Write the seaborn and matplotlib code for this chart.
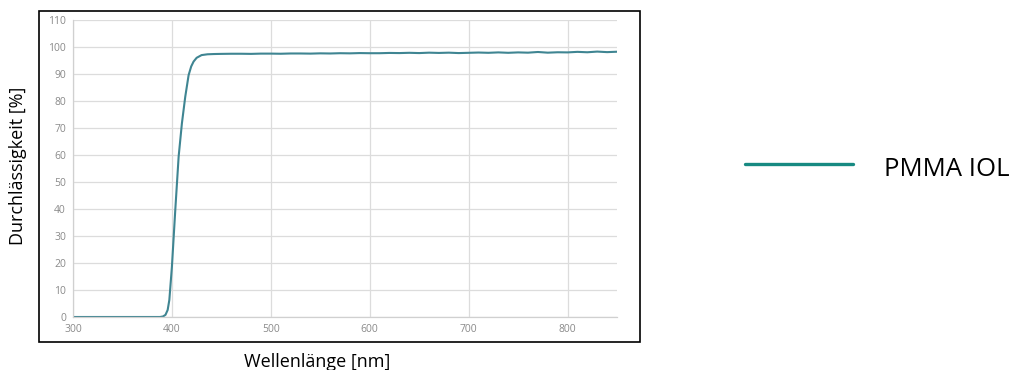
import pandas as pd
import matplotlib.pyplot as plt
import seaborn as sns
from matplotlib.lines import Line2D
from matplotlib.patches import Rectangle

# transmission curve (wavelength nm -> %)
wavelength = [300, 350, 388, 391, 393.5, 395.7, 397.4, 400, 403.4, 406.8, 410.1,
              413.5, 416.9, 419.5, 421.9, 425, 430, 436,
              443, 450, 460, 470, 480, 490, 500, 510, 520, 530, 540, 550,
              560, 570, 580, 590, 600, 610, 620, 630, 640, 650, 660, 670,
              680, 690, 700, 710, 720, 730, 740, 750, 760, 770, 780, 790,
              800, 810, 820, 830, 840, 850]
transmission = [0, 0, 0, 0.2, 0.8, 2.6, 6.3, 18.6, 39.6, 59.4, 71.7,
                81.6, 89.6, 92.8, 94.6, 96.0, 97.0, 97.3,
                97.4, 97.45, 97.5, 97.5, 97.45, 97.55, 97.55, 97.5, 97.6, 97.6, 97.55, 97.65,
                97.6, 97.7, 97.65, 97.75, 97.7, 97.7, 97.8, 97.75, 97.85, 97.75, 97.9, 97.8,
                97.9, 97.75, 97.85, 97.95, 97.85, 98.0, 97.85, 98.0, 97.9, 98.15, 97.9, 98.05,
                98.0, 98.2, 98.05, 98.3, 98.1, 98.25]

x_ticks = [300, 400, 500, 600, 700, 800]
y_ticks = list(range(0, 111, 10))

series_name = "PMMA IOL"
x_label = "Wellenlänge [nm]"
y_label = "Durchlässigkeit [%]"

df = pd.DataFrame({"wl": wavelength, "t": transmission})

sns.set_style("white")
plt.rcParams['font.family'] = ['Open Sans', 'DejaVu Sans']
plt.rcParams['text.color'] = 'black'

fig = plt.figure(figsize=(10.14, 3.7), dpi=100)
ax = fig.add_axes([73 / 1014, 1 - 317 / 370, 544 / 1014, 297 / 370])

sns.lineplot(data=df, x="wl", y="t", ax=ax, color="#3f8592", linewidth=1.5,
             legend=False)

ax.set_xlim(300, 850)
ax.set_ylim(0, 110)
ax.set_xticks(x_ticks)
ax.set_yticks(y_ticks)
ax.tick_params(axis='both', length=0, labelsize=7.5, labelcolor="#8a8a8a", pad=5)
ax.grid(True, color="#dcdcdc", linewidth=0.9)
ax.set_axisbelow(True)
for s in ["top", "right"]:
    ax.spines[s].set_visible(False)
for s in ["left", "bottom"]:
    ax.spines[s].set_color("#d0d0d0")
    ax.spines[s].set_linewidth(0.9)
ax.set_xlabel("")
ax.set_ylabel("")

# axis titles outside the framed box
fig.text(317 / 1014, 1 - 362 / 370, x_label, ha="center", va="center",
         fontsize=13, color="black")
fig.text(18 / 1014, 1 - 166 / 370, y_label, ha="center", va="center",
         rotation=90, fontsize=13, color="black")

# black frame around chart
fig.add_artist(Rectangle((39 / 1014, 1 - 342 / 370), 601 / 1014, 331 / 370,
                         transform=fig.transFigure, fill=False,
                         edgecolor="black", linewidth=1.2))

# legend on the right
fig.add_artist(Line2D([745 / 1014, 853 / 1014], [1 - 164 / 370, 1 - 164 / 370],
                      transform=fig.transFigure, color="#178a82", linewidth=2.4))
fig.text(884 / 1014, 1 - 170 / 370, series_name, ha="left", va="center",
         fontsize=18.5, color="black")

fig.savefig("out.png", dpi=100)
